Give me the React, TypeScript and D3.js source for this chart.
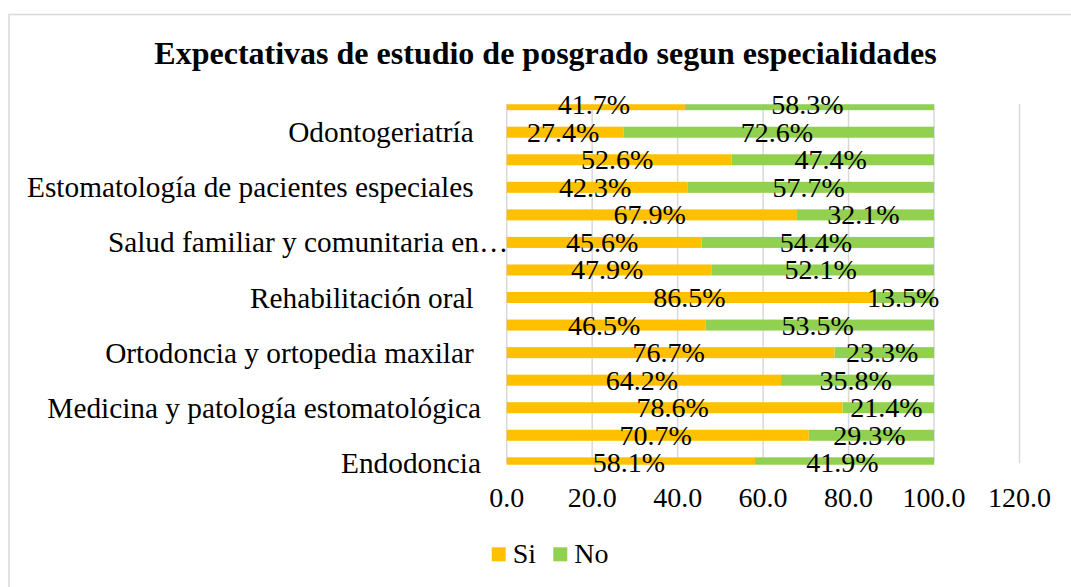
import React from 'react';
import * as d3 from 'd3';

// Tamaño del lienzo
const width = 1071;
const height = 587;

// Categorías (de arriba hacia abajo). Excel solo rotula una de cada dos barras.
const categories = [
  '',
  'Odontogeriatría ',
  '',
  'Estomatología de pacientes especiales ',
  '',
  'Salud familiar y comunitaria en…',
  '',
  'Rehabilitación oral ',
  '',
  'Ortodoncia y ortopedia maxilar ',
  '',
  'Medicina y patología estomatológica',
  '',
  'Endodoncia',
];

const siValues = [41.7, 27.4, 52.6, 42.3, 67.9, 45.6, 47.9, 86.5, 46.5, 76.7, 64.2, 78.6, 70.7, 58.1];
const noValues = [58.3, 72.6, 47.4, 57.7, 32.1, 54.4, 52.1, 13.5, 53.5, 23.3, 35.8, 21.4, 29.3, 41.9];

const seriesNames = ['Si', 'No'];
const seriesColors = ['#FFC000', '#92D050'];
const xTicks = [0, 20, 40, 60, 80, 100, 120];

const title = 'Expectativas de estudio de posgrado segun especialidades';

// Área de trazado
const plotLeft = 506.7;
const plotRight = 1019.5;
const plotTop = 104.3;
const plotBottom = 464.7;

const font = '"Liberation Serif", "Times New Roman", serif';

export default function App() {
  const x = d3.scaleLinear().domain([0, 120]).range([plotLeft, plotRight]);

  // Las bandas desbordan un poco el área de trazado (recortadas como en el original)
  const y = d3
    .scaleBand<number>()
    .domain(d3.range(categories.length))
    .range([plotTop - 13.4, plotBottom + 11.9])
    .paddingInner(0.6)
    .paddingOuter(0.3);

  const rows = categories.map((c, i) => ({ label: c, si: siValues[i], no: noValues[i] }));
  const stack = d3.stack<any>().keys(['si', 'no'])(rows);

  const fmt = d3.format('.1f');

  return (
    <svg
      width={width}
      height={height}
      style={{ position: 'absolute', left: 0, top: 0, background: '#fff', fontFamily: font }}
    >
      <defs>
        <clipPath id="plotClip">
          <rect x={plotLeft - 2} y={plotTop} width={plotRight - plotLeft + 4} height={plotBottom - plotTop} />
        </clipPath>
      </defs>

      {/* borde del gráfico */}
      <rect x={9} y={14.5} width={1080} height={600} fill="none" stroke="#d9d9d9" strokeWidth={1.5} />

      <text x={545.5} y={64} textAnchor="middle" fontSize={32} fontWeight="bold" fill="#000">
        {title}
      </text>

      {/* líneas de cuadrícula */}
      {xTicks.map((t) => (
        <line
          key={t}
          x1={x(t)}
          x2={x(t)}
          y1={plotTop}
          y2={plotBottom - 1.4}
          stroke="#d9d9d9"
          strokeWidth={1.5}
        />
      ))}

      {/* barras */}
      <g clipPath="url(#plotClip)">
        {stack.map((s, si) =>
          s.map((d, i) => (
            <rect
              key={`${si}-${i}`}
              x={x(d[0])}
              y={y(i)}
              width={x(d[1]) - x(d[0])}
              height={y.bandwidth()}
              fill={seriesColors[si]}
            />
          ))
        )}
      </g>

      {/* etiquetas de datos */}
      {stack.map((s, si) =>
        s.map((d, i) => (
          <text
            key={`l${si}-${i}`}
            x={x((d[0] + d[1]) / 2) - 2}
            y={(y(i) as number) + y.bandwidth() / 2 + 9.5}
            textAnchor="middle"
            fontSize={28}
            fill="#000"
          >
            {fmt(d[1] - d[0])}%
          </text>
        ))
      )}

      {/* etiquetas de categoría */}
      {categories.map((c, i) =>
        c ? (
          <text
            key={`c${i}`}
            x={c.endsWith('…') ? plotLeft + 1.5 : plotLeft - 25.7}
            y={(y(i) as number) + y.bandwidth() / 2 + 10}
            textAnchor="end"
            fontSize={29.3}
            fill="#000"
            style={{ whiteSpace: 'pre' }}
          >
            {c}
          </text>
        ) : null
      )}

      {/* eje X */}
      {xTicks.map((t) => (
        <text key={`t${t}`} x={x(t)} y={506.7} textAnchor="middle" fontSize={28} fill="#000">
          {fmt(t)}
        </text>
      ))}

      {/* leyenda */}
      {seriesNames.map((n, i) => {
        const lx = i === 0 ? 491.7 : 553.3;
        return (
          <g key={n}>
            <rect x={lx} y={547.3} width={14} height={14} fill={seriesColors[i]} />
            <text x={lx + 21} y={563} fontSize={28} fill="#000">
              {n}
            </text>
          </g>
        );
      })}
    </svg>
  );
}
